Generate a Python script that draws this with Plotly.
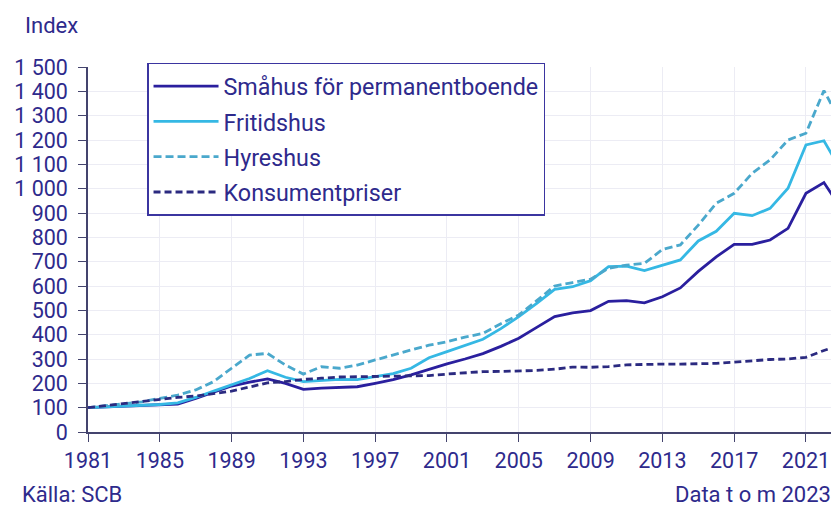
import plotly.graph_objects as go

years = list(range(1981, 2024))

smahus = [100, 103, 105, 107, 111, 115, 138, 162, 189, 205, 218, 200, 175, 180, 183, 186, 200, 215, 235, 258, 280, 300, 322, 352, 385, 430, 474, 490, 499, 537, 540, 531, 556, 592, 660, 720, 771, 771, 789, 837, 981, 1025, 915]
fritidshus = [100, 103, 106, 109, 113, 120, 142, 168, 195, 220, 252, 225, 207, 212, 216, 215, 227, 240, 262, 305, 330, 355, 381, 425, 474, 529, 586, 597, 622, 680, 682, 663, 686, 707, 785, 825, 899, 889, 919, 1002, 1180, 1197, 1069]
hyreshus = [100, 108, 115, 124, 138, 152, 173, 207, 262, 316, 323, 275, 238, 268, 262, 275, 296, 315, 337, 357, 371, 390, 405, 445, 481, 540, 600, 614, 628, 673, 686, 693, 750, 769, 850, 940, 981, 1063, 1118, 1200, 1228, 1403, 1266]
kpi = [100, 109, 118, 127, 136, 142, 148, 157, 168, 185, 202, 207, 216, 221, 226, 227, 229, 229, 230, 232, 238, 243, 248, 249, 250, 253, 258, 267, 266, 269, 276, 279, 279, 279, 279, 282, 287, 293, 298, 300, 307, 335, 360]

x_ticks = list(range(1981, 2022, 4))
y_ticks = list(range(0, 1501, 100))

TXT = "#2e2a8c"
AXIS = "#44446e"
FONT = "Roboto"

series = [
    ("Småhus för permanentboende", smahus, "#2a1f9e", "solid"),
    ("Fritidshus", fritidshus, "#35b8e4", "solid"),
    ("Hyreshus", hyreshus, "#4aa8cc", "8px,4px"),
    ("Konsumentpriser", kpi, "#2b2a80", "7px,4px"),
]

fig = go.Figure()
for name, vals, col, dash in series:
    fig.add_trace(go.Scatter(x=years, y=vals, name=name, mode="lines", legendgroup=name,
                             line=dict(color=col, width=2.8, dash=dash)))

# page body has an 8px margin, so the figure is offset by 8 px
fig.update_layout(
    width=831, height=498,
    margin=dict(l=80, r=0, t=59, b=74),
    paper_bgcolor="white", plot_bgcolor="white",
    font=dict(family=FONT, size=22, color=TXT),
    separators=", ",
    showlegend=True,
    legend=dict(x=0.0786, y=1.011, xanchor="left", yanchor="top",
                bordercolor="#3b35a0", borderwidth=1.5, bgcolor="white",
                font=dict(size=23.3, color=TXT), tracegroupgap=2,
                itemwidth=65),
)
fig.add_annotation(text="Index", xref="paper", yref="paper", x=-0.048, y=1.115,
                   xanchor="center", yanchor="middle", showarrow=False, font=dict(size=22, color=TXT))
fig.add_annotation(text="Källa: SCB", xref="paper", yref="paper", x=-0.0905, y=-0.17,
                   xanchor="left", yanchor="middle", showarrow=False, font=dict(size=22, color=TXT))
fig.add_annotation(text="Data t o m 2023", xref="paper", yref="paper", x=0.992, y=-0.17,
                   xanchor="right", yanchor="middle", showarrow=False, font=dict(size=22, color=TXT))

fig.update_xaxes(range=[1981, 2022.84], tickvals=x_ticks, ticks="outside", ticklen=8,
                 tickcolor=AXIS, showline=True, linecolor=AXIS, linewidth=1.5,
                 showgrid=True, gridcolor="#ececf4", zeroline=False,
                 tickfont=dict(size=21.5, color=TXT))
fig.update_yaxes(range=[0, 1500], tickvals=y_ticks, tickformat=",d", ticks="outside", ticklen=8,
                 ticklabelstandoff=6,
                 tickcolor=AXIS, showline=True, linecolor=AXIS, linewidth=1.5,
                 showgrid=True, gridcolor="#ececf4", zeroline=False,
                 tickfont=dict(size=21.5, color=TXT))

fig.write_html("out.html")
